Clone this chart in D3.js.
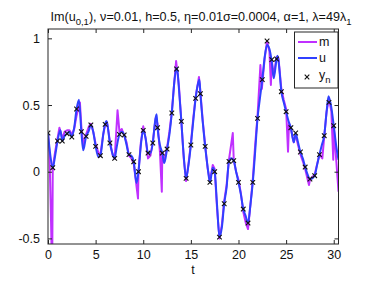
<!DOCTYPE html>
<html><head><meta charset="utf-8">
<script src="https://cdn.jsdelivr.net/npm/d3@7"></script>
<style>body{margin:0;background:#fff}svg{display:block}text{font-family:"Liberation Sans",Arial,sans-serif}</style>
</head><body><svg id="c" width="374" height="281"></svg>
<script>
// observations y_n at t = 0, 0.5, ..., 30
const obsT = d3.range(0, 30.01, 0.5);
const obsV = [0.29,0.03,0.23,0.23,0.285,0.26,0.47,0.30,0.265,0.35,0.19,0.12,0.355,0.215,0.10,0.28,0.275,0.128,0.075,0.0,
  0.31,0.14,0.215,0.33,0.14,0.17,0.44,0.77,0.377,-0.05,0.20,0.55,0.585,0.19,-0.08,0.0,-0.49,-0.24,0.077,0.083,
  -0.08,-0.28,-0.385,-0.08,0.40,0.69,0.98,0.84,0.845,0.60,0.45,0.33,0.29,0.148,0.035,-0.055,-0.03,0.128,0.27,0.52,0.345];
// truth u
const uT = [0,0.25,0.5,0.75,1,1.3,1.5,1.75,2,2.25,2.5,2.75,3,3.25,3.5,3.7,4,4.25,4.5,4.75,5,5.3,5.5,5.8,6,6.15,6.5,6.75,7,7.2,7.5,7.75,8,8.25,8.5,8.75,9,9.3,9.5,9.75,
  10,10.25,10.5,10.75,11,11.25,11.4,11.5,11.75,12,12.2,12.5,12.75,13,13.3,13.55,13.75,14,14.25,14.5,14.75,15,15.25,15.5,15.75,15.9,16,16.25,16.5,16.75,
  17,17.3,17.5,17.75,18,18.25,18.5,18.75,19,19.25,19.5,19.75,20,20.25,20.5,20.75,21,21.25,21.5,21.75,22,22.25,22.5,22.75,23,23.25,23.5,23.7,24,24.1,24.25,24.5,24.75,
  25,25.25,25.5,25.8,26,26.25,26.5,26.75,27,27.25,27.5,27.75,28,28.25,28.5,28.75,29,29.25,29.45,29.75,30,30.25,30.5];
const uV = [0.29,0.12,0.03,0.12,0.23,0.31,0.23,0.27,0.285,0.30,0.26,0.33,0.47,0.54,0.30,0.16,0.265,0.30,0.35,0.30,0.19,0.11,0.12,0.28,0.36,0.38,0.215,0.14,0.10,0.18,0.28,0.30,0.275,0.20,0.128,0.12,0.075,-0.085,0.0,0.20,
  0.31,0.25,0.14,0.14,0.215,0.38,0.43,0.33,0.20,0.14,0.065,0.17,0.28,0.44,0.70,0.78,0.62,0.377,0.12,-0.05,0.05,0.20,0.38,0.55,0.66,0.69,0.585,0.37,0.19,0.04,
  -0.08,0.03,0.0,-0.25,-0.49,-0.42,-0.24,-0.12,0.077,0.10,0.083,0.0,-0.08,-0.17,-0.28,-0.33,-0.385,-0.25,-0.08,0.15,0.40,0.55,0.69,0.86,0.95,0.92,0.82,0.70,0.845,0.87,0.80,0.60,0.52,
  0.45,0.38,0.33,0.22,0.285,0.22,0.148,0.10,0.035,-0.02,-0.055,-0.05,-0.03,0.05,0.128,0.20,0.27,0.45,0.565,0.48,0.345,0.20,0.09];
// filter mean m
const mT = [0,0.15,0.3,0.38,0.45,0.5,0.75,1,1.2,1.5,1.75,2,2.25,2.5,2.75,3,3.35,3.5,3.7,4,4.3,4.5,4.75,5,5.3,5.5,5.8,6,6.2,6.5,6.8,7,7.3,7.5,7.75,8,8.25,8.5,8.75,9,9.45,9.5,9.75,
  10,10.25,10.5,10.75,11,11.3,11.5,11.75,11.95,12,12.2,12.5,12.75,13,13.45,13.75,14,14.25,14.5,14.75,15,15.25,15.5,15.85,16,16.25,16.5,16.75,
  17,17.3,17.5,17.75,18,18.25,18.5,18.75,19,19.4,19.5,19.75,20,20.25,20.5,20.75,21,21.25,21.5,21.75,22,22.3,22.45,22.75,23,23.25,23.4,23.5,23.7,24,24.2,24.5,24.75,
  25,25.2,25.3,25.5,25.8,26,26.25,26.5,26.75,27,27.4,27.5,27.75,28,28.5,28.8,29,29.25,29.5,29.75,29.95,30,30.25,30.5];
const mV = [0.29,0.15,-0.3,-0.6,-0.6,0.03,0.15,0.25,0.33,0.25,0.30,0.31,0.31,0.28,0.32,0.42,0.52,0.34,0.20,0.28,0.34,0.36,0.30,0.21,0.14,0.13,0.28,0.35,0.37,0.23,0.12,0.10,0.46,0.30,0.32,0.27,0.22,0.12,0.10,0.06,-0.20,0.0,0.22,
  0.34,0.25,0.10,0.12,0.22,0.40,0.36,0.15,-0.15,0.14,0.08,0.18,0.30,0.45,0.83,0.64,0.38,0.10,-0.07,0.06,0.21,0.40,0.56,0.71,0.60,0.38,0.20,0.03,
  -0.07,0.05,0.02,-0.28,-0.50,-0.40,-0.22,-0.10,0.09,0.29,0.09,0.0,-0.06,-0.16,-0.30,-0.38,-0.43,-0.25,-0.06,0.20,0.42,0.80,0.62,0.85,0.98,0.90,0.65,0.83,0.72,0.86,0.85,0.62,0.54,
  0.47,0.15,0.36,0.32,0.22,0.28,0.20,0.13,0.08,0.02,-0.10,-0.06,-0.04,-0.02,0.13,0.10,0.26,0.45,0.55,0.45,0.09,0.34,0.10,-0.15];
const xTicks = [0,5,10,15,20,25,30];
const yTicks = [-0.5,0,0.5,1];

const svg = d3.select('#c');
const L=48, R=338.5, T=29, B=244;
const x = d3.scaleLinear().domain([0,30.5]).range([L,R]);
const y = d3.scaleLinear().domain([-0.542,1.07]).range([B,T]);

svg.append('defs').append('clipPath').attr('id','clip').append('rect')
  .attr('x',L).attr('y',T).attr('width',R-L).attr('height',B-T);

const line = d3.line().x(d=>x(d[0])).y(d=>y(d[1]));
const g = svg.append('g').attr('clip-path','url(#clip)');
g.append('path').datum(d3.zip(mT,mV)).attr('d',line).attr('fill','none')
  .attr('stroke','#c030ff').attr('stroke-width',2).attr('stroke-linejoin','round');
g.append('path').datum(d3.zip(uT,uV)).attr('d',d3.line().x(d=>x(d[0])).y(d=>y(d[1])).curve(d3.curveMonotoneX)).attr('fill','none')
  .attr('stroke','#3040ff').attr('stroke-width',2).attr('stroke-linejoin','round');
const s=2.3;
g.selectAll('.mk').data(d3.zip(obsT,obsV)).enter().append('path')
  .attr('d',d=>{const cx=x(d[0]),cy=y(d[1]);return `M${cx-s},${cy-s}L${cx+s},${cy+s}M${cx-s},${cy+s}L${cx+s},${cy-s}`;})
  .attr('stroke','#111').attr('stroke-width',1.1).attr('fill','none');

// axes box
const ax = svg.append('g');
ax.append('rect').attr('x',L).attr('y',T).attr('width',R-L).attr('height',B-T)
  .attr('fill','none').attr('stroke','#262626').attr('stroke-width',1);
ax.append('g').attr('transform',`translate(0,${B})`)
  .call(d3.axisBottom(x).tickValues(xTicks).tickSizeInner(-4).tickSizeOuter(0).tickPadding(6).tickFormat(d3.format('d')));
ax.append('g').attr('transform',`translate(0,${T})`)
  .call(d3.axisTop(x).tickValues(xTicks).tickSizeInner(-4).tickSizeOuter(0).tickFormat(''));
ax.append('g').attr('transform',`translate(${L},0)`)
  .call(d3.axisLeft(y).tickValues(yTicks).tickSizeInner(-4).tickSizeOuter(0).tickPadding(8).tickFormat(d=>String(d)));
ax.append('g').attr('transform',`translate(${R},0)`)
  .call(d3.axisRight(y).tickValues(yTicks).tickSizeInner(-4).tickSizeOuter(0).tickFormat(''));
ax.selectAll('.domain').remove();
ax.selectAll('.tick line').attr('stroke','#262626');
ax.selectAll('.tick text').attr('font-size',12.5).attr('fill','#111').attr('font-family','"Liberation Sans",Arial,sans-serif');

svg.append('text').attr('x',193).attr('y',274).attr('text-anchor','middle')
  .attr('font-size',12.5).attr('fill','#111').text('t');

// title
const tt = svg.append('text').attr('x',201).attr('y',21).attr('text-anchor','middle').attr('font-size',12.6).attr('fill','#111');
tt.append('tspan').text('Im(u');
tt.append('tspan').attr('font-size',9.5).attr('dy',4).text('0,1');
tt.append('tspan').attr('dy',-4).text('), ν=0.01, h=0.5, η=0.01σ=0.0004, α=1, λ=49λ');
tt.append('tspan').attr('font-size',9.5).attr('dy',4).text('1');

// legend
const lg = svg.append('g');
lg.append('rect').attr('x',294.5).attr('y',32).attr('width',43.5).attr('height',56)
  .attr('fill','#fff').attr('stroke','#262626').attr('stroke-width',1);
lg.append('line').attr('x1',298).attr('x2',317).attr('y1',42).attr('y2',42).attr('stroke','#c030ff').attr('stroke-width',2);
lg.append('line').attr('x1',298).attr('x2',317).attr('y1',58).attr('y2',58).attr('stroke','#3040ff').attr('stroke-width',2);
const lx=307, ly=77;
lg.append('path').attr('d',`M${lx-s},${ly-s}L${lx+s},${ly+s}M${lx-s},${ly+s}L${lx+s},${ly-s}`).attr('stroke','#111').attr('stroke-width',1.1);
lg.append('text').attr('x',319).attr('y',46).attr('font-size',12.5).attr('fill','#111').text('m');
lg.append('text').attr('x',319).attr('y',62).attr('font-size',12.5).attr('fill','#111').text('u');
const yn = lg.append('text').attr('x',319).attr('y',79).attr('font-size',12.5).attr('fill','#111');
yn.append('tspan').text('y');
yn.append('tspan').attr('font-size',9.5).attr('dy',4).text('n');
</script></body></html>
